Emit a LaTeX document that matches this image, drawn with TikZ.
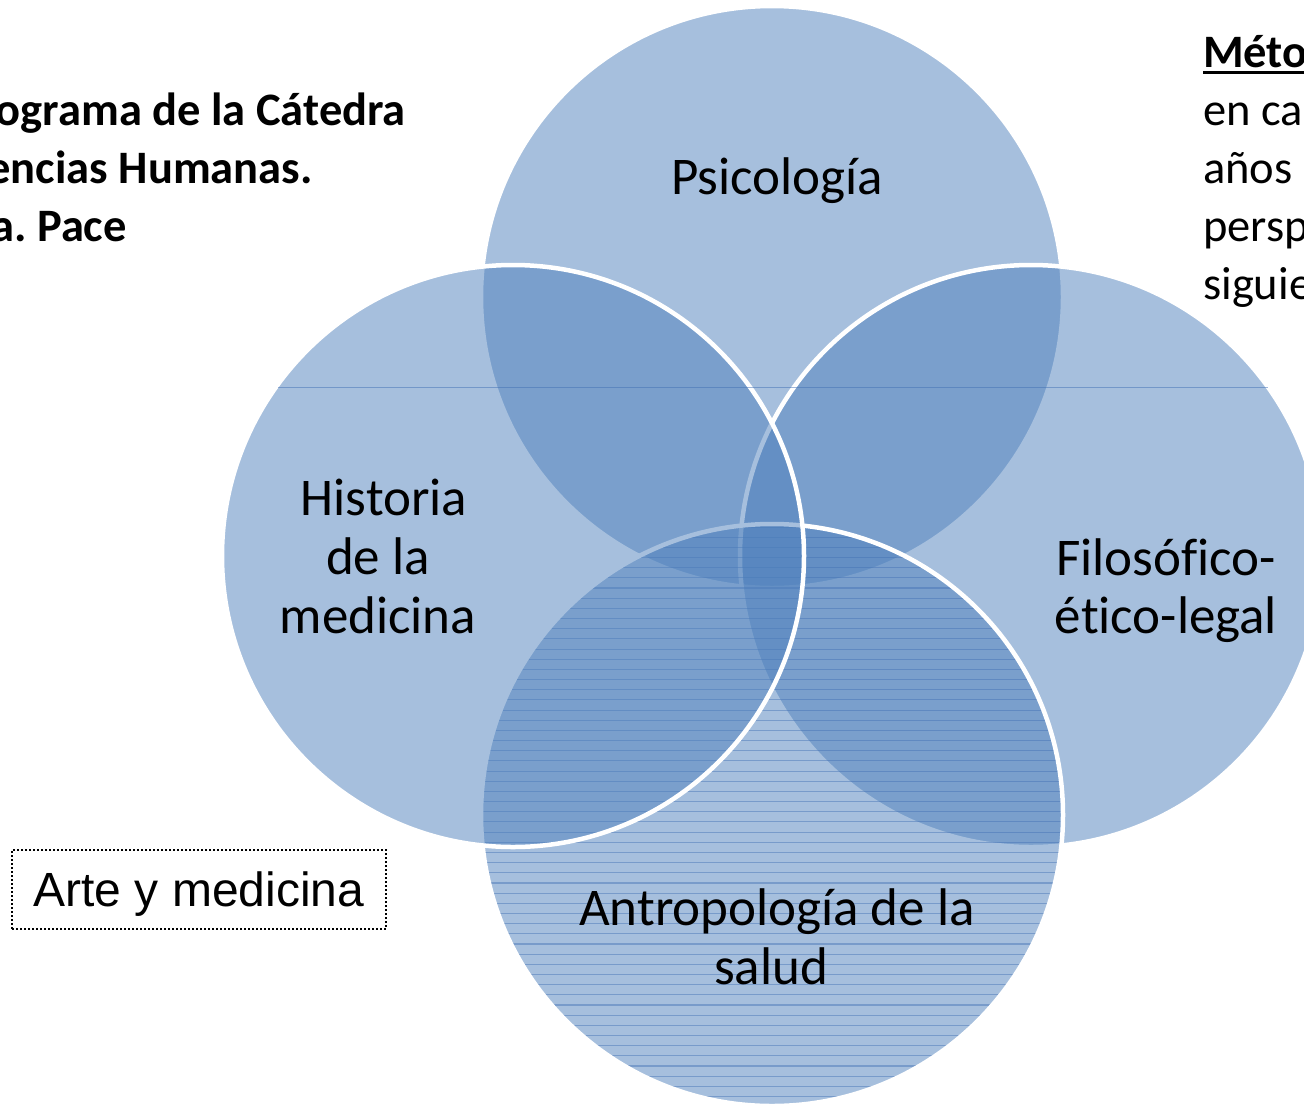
\documentclass[tikz,border=0pt]{standalone}
\usepackage{fontspec}
\setmainfont{Carlito}[Ligatures=NoCommon]
\newfontfamily\arialfont{Liberation Sans}
\definecolor{vennblue}{RGB}{79,129,189}
\definecolor{stripeblue}{RGB}{66,112,180}
\newcommand\ulbold[1]{\setbox0\hbox{#1}\rlap{\rule[-7pt]{\wd0}{3pt}}\box0}
\frenchspacing
\begin{document}
\begin{tikzpicture}[x=1pt,y=-1pt,
  vennfill/.style={fill=vennblue, fill opacity=0.5},
  vennline/.style={draw=white, line width=4.5pt},
  stripe/.style={draw=stripeblue, line width=1.1pt, opacity=0.45},
  lbl/.style={font=\fontsize{53}{59}\selectfont, inner sep=0pt, anchor=base},
  titl/.style={font=\fontsize{46.5}{58}\selectfont\bfseries, inner sep=0pt, anchor=base east},
  side/.style={font=\fontsize{46.5}{58}\selectfont, inner sep=0pt, anchor=base west},
  dotbox/.style={draw, dash pattern=on 2pt off 2pt, line width=2pt, minimum width=374pt,
    minimum height=79pt, inner sep=0pt, text height=34pt, text depth=0pt,
    font=\arialfont\fontsize{48}{56}\selectfont}
]
\useasboundingbox (0,0) rectangle (1304,1104);
\clip (0,0) rectangle (1304,1104);
\fill[white] (0,0) rectangle (1304,1104);

% top circle
\path[vennfill] (772,297) circle[radius=291pt];
\path[vennline] (772,297) circle[radius=291pt];
% right circle
\path[vennfill] (1031,556) circle[radius=291pt];
\path[vennline] (1031,556) circle[radius=291pt];
% bottom circle with stripes
\path[vennfill] (772,815) circle[radius=291pt];
\begin{scope}
  \clip (772,815) circle[radius=291pt];
  \foreach \k in {0,...,57} {
    \draw[stripe] (480,{527+\k*10.17}) -- (1065,{527+\k*10.17});
  }
\end{scope}
\path[vennline] (772,815) circle[radius=291pt];
% left circle
\path[vennfill] (513,556) circle[radius=291pt];
\path[vennline] (513,556) circle[radius=291pt];

% hairline
\draw[stripe, line width=0.9pt, opacity=0.5] (278,387) -- (1268,387);

% circle labels
\node[lbl] (psi) at (777,194) {Psicología};
\node[lbl] (hist1) at (384,515) {Historia};
\node[lbl] (hist2) at (378,574) {de la};
\node[lbl] (hist3) at (378,633) {medicina};
\node[lbl] (filo1) at (1166,575) {Filosófico-};
\node[lbl] (filo2) at (1166,633) {ético-legal};
\node[lbl] (antro1) at (777,925) {Antropología de la};
\node[lbl] (antro2) at (771,984) {salud};

% left title
\node[titl] (t1) at (406,125) {ograma de la Cátedra};
\node[titl] (t2) at (313,183) {encias Humanas.};
\node[titl] (t3) at (127,241) {a. Pace};

% right text
\node[side, font=\fontsize{46.5}{58}\selectfont\bfseries] (r0) at (1203,67) {\ulbold{Méto}};
\node[side] (r1) at (1203,125) {en ca};
\node[side] (r2) at (1203,183) {años};
\node[side] (r3) at (1203,241) {persp};
\node[side] (r4) at (1203,299) {siguie};

% box
\node[dotbox] (arte) at (199,889.5) {Arte y medicina};
\end{tikzpicture}
\end{document}
